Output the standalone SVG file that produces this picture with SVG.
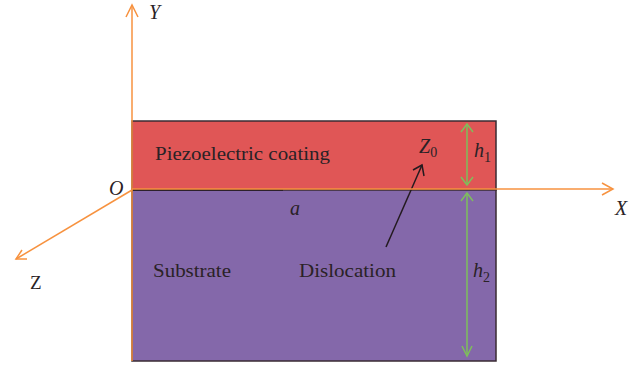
<svg xmlns="http://www.w3.org/2000/svg" width="641" height="368" viewBox="0 0 641 368">
<style>
.ax{stroke:#F7923F;stroke-width:1.5;fill:none}
.gr{stroke:#7EBF5B;stroke-width:1.5;fill:none}
.t{font-family:"Liberation Serif",serif;font-size:19px;fill:#2a2226}
.i{font-style:italic;font-size:20px}
</style>
<g id="coating">
<rect x="132" y="121" width="364" height="69" fill="#E05656" stroke="#3a2b33" stroke-width="1.5"/>
<text class="t" x="155" y="160" textLength="175" lengthAdjust="spacingAndGlyphs">Piezoelectric coating</text>
</g>
<g id="substrate">
<rect x="132" y="190" width="364" height="171" fill="#8468AA" stroke="#3a2b33" stroke-width="1.5"/>
<text class="t" x="153" y="277" textLength="78" lengthAdjust="spacingAndGlyphs">Substrate</text>
<text class="t" x="299" y="277" textLength="97" lengthAdjust="spacingAndGlyphs">Dislocation</text>
</g>
<g id="connectors">
<line x1="132" y1="190" x2="283" y2="190" stroke="#231a1f" stroke-width="1.5"/>
<line x1="386" y1="247" x2="422" y2="165" stroke="#231a1f" stroke-width="1.5"/>
<polyline points="413,170 422,165 424,176" fill="none" stroke="#231a1f" stroke-width="1.5"/>
<line class="ax" x1="132" y1="361" x2="132" y2="5"/>
<polyline class="ax" points="126,17 132,5 138,17"/>
<line class="ax" x1="132" y1="189" x2="613" y2="189"/>
<polyline class="ax" points="602,183 613,189 602,195"/>
<line class="ax" x1="132" y1="190" x2="16" y2="259"/>
<polyline class="ax" points="22,250 16,259 27,259"/>
<line class="gr" x1="467" y1="124" x2="467" y2="185"/>
<polyline class="gr" points="461,132 467,124 473,132"/>
<polyline class="gr" points="461,177 467,185 473,177"/>
<line class="gr" x1="467" y1="193" x2="467" y2="356"/>
<polyline class="gr" points="461,201 467,193 473,201"/>
<polyline class="gr" points="462,346 467,356 472,346"/>
</g>
<g id="labels">
<text class="t i" x="149" y="19">Y</text>
<text class="t i" x="615" y="215">X</text>
<text class="t" x="30" y="289" font-size="20">Z</text>
<text class="t i" x="109" y="195">O</text>
<text class="t i" x="290" y="215">a</text>
<text class="t i" x="419" y="153">Z<tspan font-style="normal" font-size="14" dy="4">0</tspan></text>
<text class="t i" x="474" y="157">h<tspan font-style="normal" font-size="14" dy="5">1</tspan></text>
<text class="t i" x="473" y="277">h<tspan font-style="normal" font-size="14" dy="5">2</tspan></text>
</g>
</svg>
